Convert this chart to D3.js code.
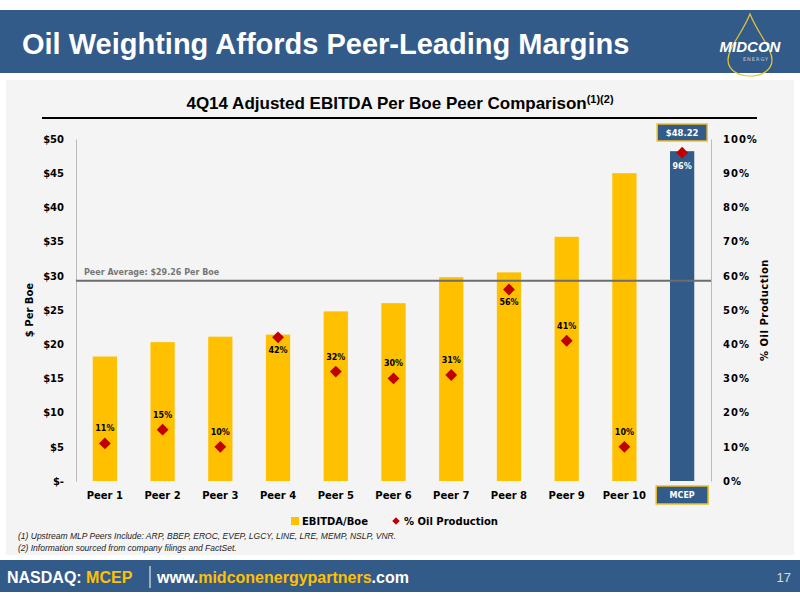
<!DOCTYPE html>
<html><head><meta charset="utf-8">
<script src="https://cdn.jsdelivr.net/npm/d3@7"></script>
<style>body{margin:0;background:#fff}svg{display:block}</style></head>
<body><svg id="c" width="800" height="600"></svg>
<script>
const categories=["Peer 1","Peer 2","Peer 3","Peer 4","Peer 5","Peer 6","Peer 7","Peer 8","Peer 9","Peer 10","MCEP"];
const ebitda=[18.2,20.3,21.1,21.4,24.8,26.0,29.8,30.5,35.7,45.0,48.22];
const oilPct=[11,15,10,42,32,30,31,56,41,10,96];
const labelBelow=[false,false,false,true,false,false,false,true,false,false,true];
const leftTicks=[0,5,10,15,20,25,30,35,40,45,50];
const rightTicks=[0,10,20,30,40,50,60,70,80,90,100];
const peerAvg=29.26;

const svg=d3.select("#c");
const F="'DejaVu Sans',Verdana,sans-serif";
const N="'Liberation Sans Narrow','Liberation Sans',Arial,sans-serif";
const blue="#335b8a", gold="#ffc000", red="#c00000";

svg.append("rect").attr("x",0).attr("y",10).attr("width",800).attr("height",63).attr("fill",blue);
svg.append("text").attr("x",22).attr("y",54).attr("fill","#fff").attr("font-family",N).attr("font-weight","bold").attr("font-size",29).text("Oil Weighting Affords Peer-Leading Margins");
const lg=svg.append("g");
lg.append("path").attr("d","M750,14 C742,34 728,48 728,60 C728,70 738,76 750,76 C762,76 772,70 772,60 C772,48 758,34 750,14 Z").attr("fill","none").attr("stroke","#e8c830").attr("stroke-width",1.2);
lg.append("text").attr("x",750).attr("y",52).attr("text-anchor","middle").attr("fill","#fff").attr("font-family",N).attr("font-style","italic").attr("font-weight","bold").attr("font-size",15).text("MIDCON");
lg.append("text").attr("x",756).attr("y",61).attr("text-anchor","middle").attr("fill","#ccc").attr("font-family",F).attr("font-size",5).attr("letter-spacing",1).text("ENERGY");

svg.append("rect").attr("x",6).attr("y",80).attr("width",788).attr("height",475).attr("fill","#f4f4f4");

const tt=svg.append("text").attr("x",400).attr("y",109).attr("text-anchor","middle").attr("font-family",N).attr("font-weight","bold").attr("font-size",17).attr("fill","#000");
tt.append("tspan").text("4Q14 Adjusted EBITDA Per Boe Peer Comparison");
tt.append("tspan").attr("dy",-6).attr("font-size",11).text("(1)(2)");
svg.append("line").attr("x1",42).attr("x2",757).attr("y1",118).attr("y2",118).attr("stroke","#000").attr("stroke-width",2);

const L=76,R=711,T=139,B=481;
const x=d3.scaleBand().domain(categories).range([L,R]).paddingInner(0.58).paddingOuter(0.29);
const y=d3.scaleLinear().domain([0,50]).range([B,T]);
const y2=d3.scaleLinear().domain([0,100]).range([B,T]);

const yl=svg.append("g").attr("transform",`translate(${L},0)`).call(d3.axisLeft(y).tickValues(leftTicks).tickSize(0).tickPadding(12).tickFormat(d=>d===0?"$-":"$"+d));
yl.select(".domain").attr("stroke","#bbb");
yl.selectAll("text").attr("font-family",F).attr("font-weight","bold").attr("font-size",10).attr("fill","#000");
const yr=svg.append("g").attr("transform",`translate(${R},0)`).call(d3.axisRight(y2).tickValues(rightTicks).tickSize(0).tickPadding(12).tickFormat(d=>d+"%"));
yr.select(".domain").attr("stroke","#bbb");
yr.selectAll("text").attr("font-family",F).attr("font-weight","bold").attr("font-size",10).attr("fill","#000").attr("letter-spacing",1);

svg.selectAll(".bar").data(ebitda).join("rect").attr("x",(d,i)=>x(categories[i])).attr("width",x.bandwidth())
 .attr("y",d=>y(d)).attr("height",d=>B-y(d)).attr("fill",(d,i)=>categories[i]==="MCEP"?blue:gold);

svg.append("line").attr("x1",L).attr("x2",R).attr("y1",y(peerAvg)).attr("y2",y(peerAvg)).attr("stroke","#6d6d6d").attr("stroke-width",2);
svg.append("text").attr("x",84).attr("y",y(peerAvg)-6).attr("font-family",F).attr("font-weight","bold").attr("font-size",8).attr("fill","#777").text("Peer Average: $"+peerAvg+" Per Boe");

const cx=i=>x(categories[i])+x.bandwidth()/2;
svg.selectAll(".dm").data(oilPct).join("path").attr("d",d3.symbol(d3.symbolSquare,70))
 .attr("transform",(d,i)=>`translate(${cx(i)},${y2(d)}) rotate(45)`).attr("fill",red);
svg.selectAll(".pl").data(oilPct).join("text").attr("x",(d,i)=>cx(i)).attr("y",(d,i)=>y2(d)+(labelBelow[i]?16:-12))
 .attr("text-anchor","middle").attr("font-family",F).attr("font-weight","bold").attr("font-size",8)
 .attr("fill",(d,i)=>categories[i]==="MCEP"?"#fff":"#000").text(d=>d+"%");

const mi=categories.length-1;
svg.append("rect").attr("x",cx(mi)-25).attr("y",124).attr("width",50).attr("height",17).attr("fill",blue).attr("stroke","#f0c020").attr("stroke-width",1.5);
svg.append("text").attr("x",cx(mi)).attr("y",136).attr("text-anchor","middle").attr("font-family",F).attr("font-weight","bold").attr("font-size",8.5).attr("fill","#fff").text("$"+ebitda[mi]);

categories.forEach((c,i)=>{
 if(c==="MCEP"){
  svg.append("rect").attr("x",cx(i)-26).attr("y",486).attr("width",52).attr("height",18).attr("fill",blue).attr("stroke","#f0c020").attr("stroke-width",1.5);
  svg.append("text").attr("x",cx(i)).attr("y",498).attr("text-anchor","middle").attr("font-family",F).attr("font-weight","bold").attr("font-size",8).attr("fill","#fff").text(c);
 } else {
  svg.append("text").attr("x",cx(i)).attr("y",499).attr("text-anchor","middle").attr("font-family",F).attr("font-weight","bold").attr("font-size",10).attr("fill","#000").text(c);
 }
});

svg.append("text").attr("transform","translate(33,310) rotate(-90)").attr("text-anchor","middle").attr("font-family",F).attr("font-weight","bold").attr("font-size",10).text("$ Per Boe");
svg.append("text").attr("transform","translate(768,310) rotate(-90)").attr("text-anchor","middle").attr("font-family",F).attr("font-weight","bold").attr("font-size",10).attr("letter-spacing",0.5).text("% Oil Production");

svg.append("rect").attr("x",291).attr("y",517).attr("width",8).attr("height",8).attr("fill",gold);
svg.append("text").attr("x",302).attr("y",525).attr("font-family",F).attr("font-weight","bold").attr("font-size",10).text("EBITDA/Boe");
svg.append("path").attr("d",d3.symbol(d3.symbolSquare,28)).attr("transform","translate(396,521) rotate(45)").attr("fill",red);
svg.append("text").attr("x",404).attr("y",525).attr("font-family",F).attr("font-weight","bold").attr("font-size",10).text("% Oil Production");

const notes=["(1)   Upstream MLP Peers Include: ARP, BBEP, EROC, EVEP, LGCY, LINE, LRE, MEMP, NSLP, VNR.","(2)   Information sourced from company filings and FactSet."];
notes.forEach((t,i)=>svg.append("text").attr("x",18).attr("y",539+i*12).attr("font-family",N).attr("font-style","italic").attr("font-size",8.5).attr("fill","#222").text(t));

svg.append("rect").attr("x",0).attr("y",560).attr("width",800).attr("height",32).attr("fill",blue);
const ft=svg.append("text").attr("x",7).attr("y",583).attr("font-family",N).attr("font-weight","bold").attr("font-size",16).attr("fill","#fff");
ft.append("tspan").text("NASDAQ: ");
ft.append("tspan").attr("fill",gold).text("MCEP");
svg.append("line").attr("x1",150).attr("x2",150).attr("y1",566).attr("y2",588).attr("stroke","#fff");
const ft2=svg.append("text").attr("x",157).attr("y",583).attr("font-family",N).attr("font-weight","bold").attr("font-size",16).attr("fill","#fff");
ft2.append("tspan").text("www.");
ft2.append("tspan").attr("fill",gold).text("midconenergypartners");
ft2.append("tspan").text(".com");
svg.append("text").attr("x",791).attr("y",582).attr("text-anchor","end").attr("font-family",N).attr("font-size",13).attr("fill","#ddd").text("17");
</script></body></html>
